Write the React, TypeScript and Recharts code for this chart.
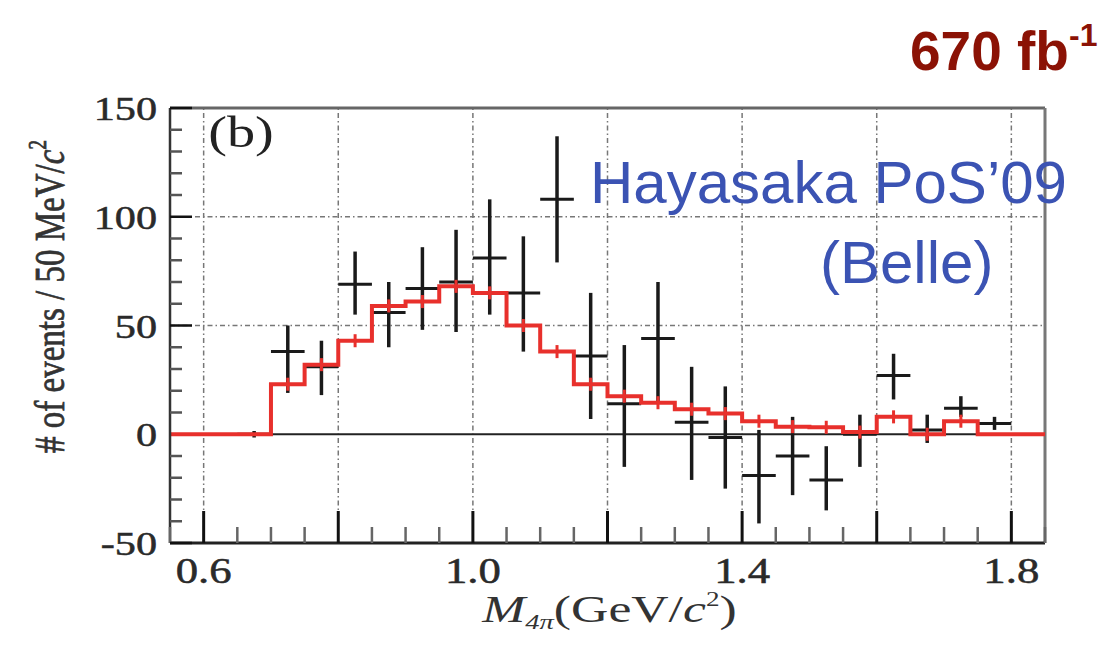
import React from 'react';
import { ComposedChart, XAxis, YAxis, Line, Scatter, ErrorBar, ReferenceLine, Label } from 'recharts';

// MC histogram (red): lower bin edges (50 MeV bins) and contents
const binEdges = [0.55, 0.6, 0.65, 0.7, 0.75, 0.8, 0.85, 0.9, 0.95, 1.0, 1.05, 1.1, 1.15, 1.2, 1.25, 1.3, 1.35, 1.4, 1.45, 1.5, 1.55, 1.6, 1.65, 1.7, 1.75, 1.8];
const mcValues = [0, 0, 0, 23, 32, 43, 59, 61, 68, 65, 50, 38, 23, 17.5, 14.5, 11.5, 9.5, 6, 3.5, 3.2, 1, 8, 0, 6, 0, 0];
const histEnd = 1.85;

// Data points (black): bin centre, value, lower and upper error-bar ends
const dataX = [0.675, 0.725, 0.775, 0.825, 0.875, 0.925, 0.975, 1.025, 1.075, 1.125, 1.175, 1.225, 1.275, 1.325, 1.375, 1.425, 1.475, 1.525, 1.575, 1.625, 1.675, 1.725, 1.775];
const dataY = [0, 38, 31, 69, 56, 67, 70, 81, 65, 108, 36, 14, 44, 5.5, -1.5, -19, -10, -21, 0, 27, 2, 12, 5];
const dataLow = [-1.5, 19, 18, 55, 40, 48, 47, 55, 38, 79, 7, -15, 15, -21, -25, -41, -28, -35, -15, 16, -4, 8, 2];
const dataHigh = [1.5, 50, 43, 84, 70, 86, 94, 108, 91, 137, 65, 41, 70, 31, 22, 2, 8, -5.5, 9, 37, 9, 17.5, 8];
const binHalfWidth = 0.025;

// Axes
const xTicks = [0.55, 0.6, 0.65, 0.7, 0.75, 0.8, 0.85, 0.9, 0.95, 1.0, 1.05, 1.1, 1.15, 1.2, 1.25, 1.3, 1.35, 1.4, 1.45, 1.5, 1.55, 1.6, 1.65, 1.7, 1.75, 1.8, 1.85];
const xMajor = [0.6, 0.8, 1.0, 1.2, 1.4, 1.6, 1.8];
const xLabels = [0.6, 1.0, 1.4, 1.8];
const yTicks = [-50, -40, -30, -20, -10, 0, 10, 20, 30, 40, 50, 60, 70, 80, 90, 100, 110, 120, 130, 140, 150];
const yLabels = [-50, 0, 50, 100, 150];
const gridX = [0.6, 0.8, 1.0, 1.2, 1.4, 1.6, 1.8];
const gridY = [50, 100];

const histData = binEdges.map((x, i) => ({ x, y: mcValues[i] })).concat([{ x: histEnd, y: mcValues[mcValues.length - 1] }]);
const pointData = dataX.map((x, i) => ({
  x,
  y: dataY[i],
  ey: [dataY[i] - dataLow[i], dataHigh[i] - dataY[i]],
  ex: binHalfWidth,
}));
const mcMarks = binEdges.slice(3, 24).map((e, i) => ({ x: e + binHalfWidth, y: mcValues[i + 3], ey: 3 }));

const SERIF = '"Liberation Serif", "DejaVu Serif", serif';
const SANS = '"Liberation Sans", Arial, sans-serif';
const near = (arr: number[], v: number) => arr.some((a) => Math.abs(a - v) < 1e-6);

const XTick = (props: any) => {
  const { x, y, payload } = props;
  const v = payload.value;
  const major = near(xMajor, v);
  const len = major ? 32 : 16;
  return (
    <g>
      <line x1={x} x2={x} y1={y} y2={y - len} stroke={major ? '#111' : '#666'} strokeWidth={major ? 3 : 2.5} />
      {near(xLabels, v) && (
        <text transform={`translate(${x},${y + 40}) scale(1.28,1)`} textAnchor="middle" fontFamily={SERIF} fontSize={35} fill="#2a2a2a" stroke="#2a2a2a" strokeWidth={0.5}>
          {v.toFixed(1)}
        </text>
      )}
    </g>
  );
};

const YTick = (props: any) => {
  const { x, y, payload } = props;
  const v = payload.value;
  const major = near(yLabels, v);
  const len = major ? 22 : 12;
  return (
    <g>
      {v !== 0 && <line x1={x} x2={x + len} y1={y} y2={y} stroke={major ? '#111' : '#555'} strokeWidth={2.5} />}
      {major && (
        <text transform={`translate(${x - 13},${y + 12}) scale(1.28,1)`} textAnchor="end" fontFamily={SERIF} fontSize={33} fill="#2a2a2a" stroke="#2a2a2a" strokeWidth={0.5}>
          {String(v)}
        </text>
      )}
    </g>
  );
};

const XTitle = (props: any) => {
  const vb = props.viewBox || { x: 170, y: 543, width: 875 };
  const cx = vb.x + vb.width / 2 + 2;
  return (
    <text transform={`translate(${cx},${vb.y + 79}) scale(1.36,1)`} textAnchor="middle" fontFamily={SERIF} fontSize={38} fill="#333">
      <tspan fontStyle="italic">M</tspan>
      <tspan fontSize={21} dy={7} fontStyle="italic">4π</tspan>
      <tspan dy={-7}>(GeV/</tspan>
      <tspan fontStyle="italic">c</tspan>
      <tspan fontSize={20} dy={-16}>2</tspan>
      <tspan dy={16}>)</tspan>
    </text>
  );
};

const YTitle = (props: any) => {
  const vb = props.viewBox || { x: 0, y: 108, height: 435 };
  const cy = vb.y + vb.height / 2 - 29;
  return (
    <text transform={`translate(64,${cy}) rotate(-90) scale(1,1.28)`} textAnchor="middle" fontFamily={SERIF} fontSize={33} fill="#333" stroke="#333" strokeWidth={0.6}>
      <tspan># of events / 50 MeV/</tspan>
      <tspan fontStyle="italic">c</tspan>
      <tspan fontSize={19} dy={-14}>2</tspan>
    </text>
  );
};

const NoShape = () => <g />;

export default function App() {
  return (
    <div style={{ position: 'absolute', left: 0, top: 0, width: 1112, height: 649, background: '#fff' }}>
      <ComposedChart width={1112} height={649} margin={{ top: 108, right: 67, bottom: 0, left: 0 }}>
        <XAxis
          dataKey="x"
          type="number"
          domain={[0.55, 1.85]}
          ticks={xTicks}
          interval={0}
          minTickGap={0}
          tick={<XTick />}
          tickLine={false}
          tickSize={0}
          tickMargin={0}
          height={106}
          allowDataOverflow
          axisLine={{ stroke: '#222', strokeWidth: 3 }}
        >
          <Label content={<XTitle />} />
        </XAxis>
        <YAxis
          type="number"
          domain={[-50, 150]}
          ticks={yTicks}
          interval={0}
          tick={<YTick />}
          tickLine={false}
          tickSize={0}
          tickMargin={0}
          width={170}
          allowDataOverflow
          axisLine={{ stroke: '#333', strokeWidth: 2.5 }}
        >
          <Label content={<YTitle />} />
        </YAxis>

        {gridX.map((g) => (
          <ReferenceLine key={'gx' + g} x={g} stroke="#777" strokeWidth={1.5} strokeDasharray="5 3 1.5 3" />
        ))}
        {gridY.map((g) => (
          <ReferenceLine key={'gy' + g} y={g} stroke="#777" strokeWidth={1.5} strokeDasharray="5 3 1.5 3" />
        ))}
        <ReferenceLine y={0} stroke="#222" strokeWidth={2} />
        <ReferenceLine y={150} stroke="#666" strokeWidth={3} />
        <ReferenceLine x={1.85} stroke="#777" strokeWidth={3} />

        <Scatter data={pointData} dataKey="y" shape={<NoShape />} isAnimationActive={false}>
          <ErrorBar dataKey="ey" direction="y" width={0} stroke="#1a1a1a" strokeWidth={3.5} />
          <ErrorBar dataKey="ex" direction="x" width={0} stroke="#1a1a1a" strokeWidth={3} />
        </Scatter>
        <Line data={histData} dataKey="y" type="stepAfter" stroke="#e8302c" strokeWidth={4} dot={false} isAnimationActive={false} />
        <Scatter data={mcMarks} dataKey="y" shape={<NoShape />} isAnimationActive={false}>
          <ErrorBar dataKey="ey" direction="y" width={0} stroke="#e8302c" strokeWidth={3} />
        </Scatter>
      </ComposedChart>
      <svg width={1112} height={649} style={{ position: 'absolute', left: 0, top: 0, pointerEvents: 'none' }}>
        <text transform="translate(241,147) scale(1.28,1)" textAnchor="middle" fontFamily={SERIF} fontSize={44} fill="#222">(b)</text>
        <text x={590} y={203} fontFamily={SANS} fontSize={60} fill="#3b53b3">Hayasaka PoS’09</text>
        <text x={820} y={283} fontFamily={SANS} fontSize={60} fill="#3b53b3">(Belle)</text>
        <text x={910} y={70} fontFamily={SANS} fontSize={55} fontWeight="bold" fill="#8b1205">
          670 fb<tspan fontSize={32} dy={-24}>-1</tspan>
        </text>
      </svg>
    </div>
  );
}
